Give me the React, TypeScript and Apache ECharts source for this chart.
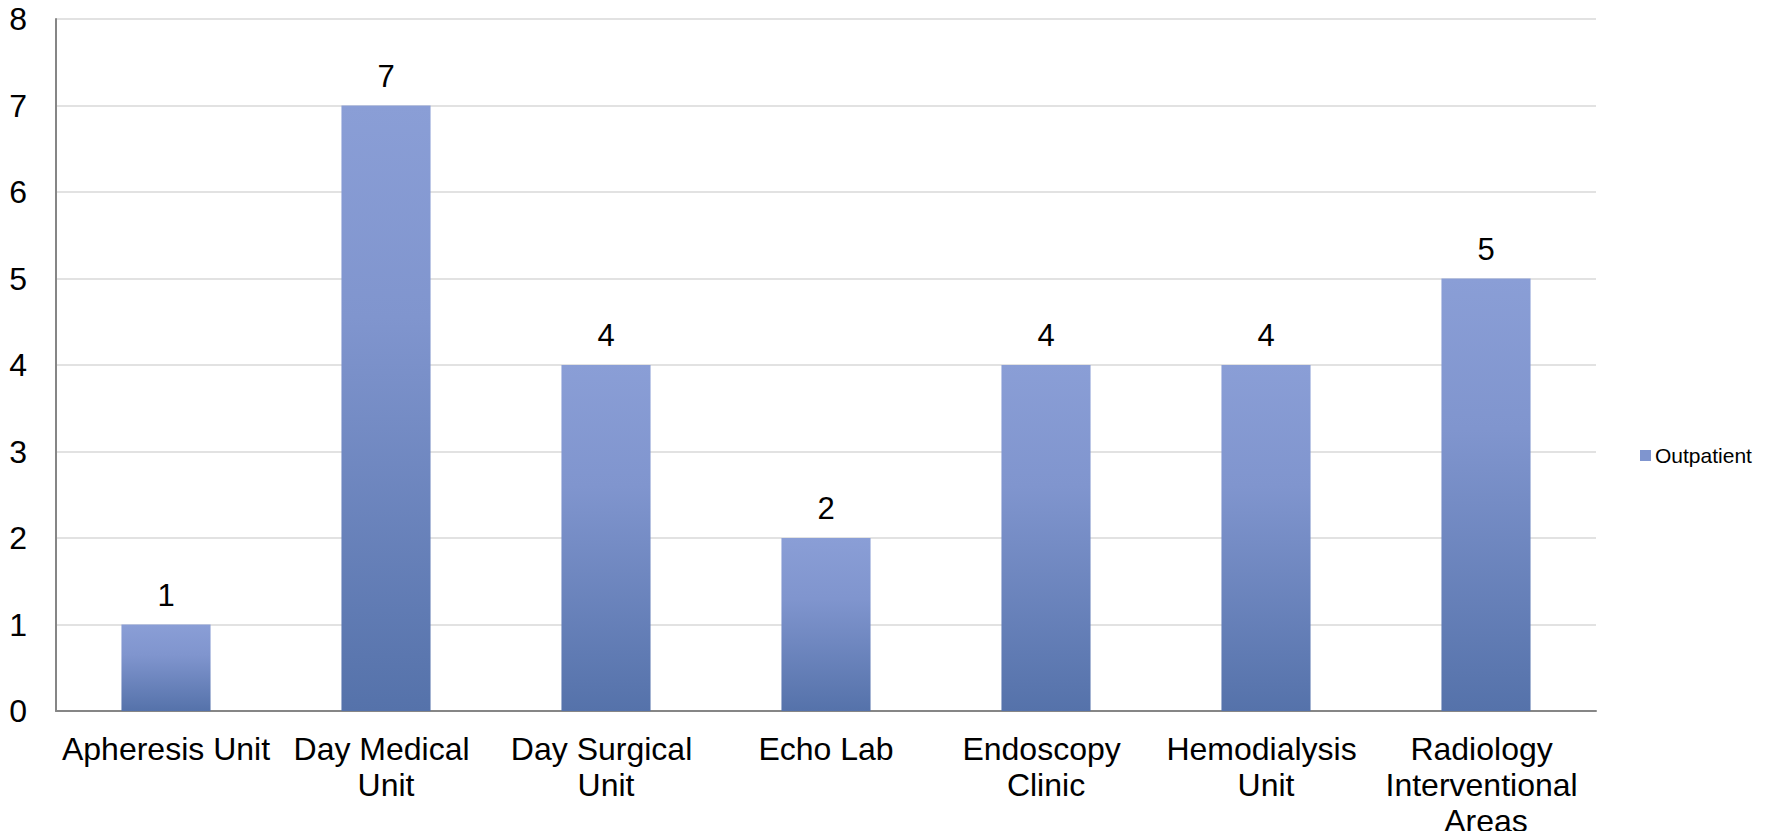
import React, { useEffect, useRef } from "react";
import * as echarts from "echarts";

const categories = [
  "Apheresis Unit",
  "Day Medical Unit",
  "Day Surgical Unit",
  "Echo Lab",
  "Endoscopy Clinic",
  "Hemodialysis Unit",
  "Radiology Interventional Areas",
];
const outpatient = [1, 7, 4, 2, 4, 4, 5];
const seriesName = "Outpatient";

const FONT = "'Liberation Sans', Arial, sans-serif";

export default function App() {
  const ref = useRef<HTMLDivElement>(null);
  useEffect(() => {
    if (!ref.current) return;
    const chart = echarts.init(ref.current, null, { renderer: "svg" });
    const grad = new echarts.graphic.LinearGradient(0, 0, 0, 1, [
      { offset: 0, color: "#8A9ED6" },
      { offset: 0.35, color: "#8095CE" },
      { offset: 1, color: "#5572AA" },
    ]);
    chart.setOption({
      animation: false,
      textStyle: { fontFamily: FONT },
      grid: { left: 56, right: 175, top: 19, bottom: 126, containLabel: false },
      legend: {
        show: true,
        data: [{ name: seriesName, icon: "rect", itemStyle: { color: "#7F95CF" } }],
        orient: "vertical",
        left: 1635,
        top: 440,
        itemWidth: 11,
        itemHeight: 11,
        textStyle: { fontSize: 21, color: "#000", fontFamily: FONT, padding: [0, 0, 0, -1] },
      },
      xAxis: {
        type: "category",
        data: categories,
        axisLine: { lineStyle: { color: "#868686", width: 2 } },
        axisTick: { show: false },
        axisLabel: {
          color: "#000",
          fontSize: 32,
          fontFamily: FONT,
          interval: 0,
          width: 215,
          overflow: "break",
          lineHeight: 36,
          margin: 20,
        },
      },
      yAxis: {
        type: "value",
        min: 0,
        max: 8,
        interval: 1,
        axisLine: { show: true, lineStyle: { color: "#868686", width: 2 } },
        axisTick: { show: false },
        splitLine: { lineStyle: { color: "#D9D9D9", width: 1.5 } },
        axisLabel: { color: "#000", fontSize: 32, fontFamily: FONT, margin: 29 },
      },
      series: [
        {
          name: seriesName,
          type: "bar",
          data: outpatient,
          barWidth: "40.5%",
          itemStyle: { color: grad },
          label: {
            show: true,
            position: "top",
            distance: 14,
            color: "#000",
            fontSize: 31,
            fontFamily: FONT,
          },
        },
      ],
    });
    return () => chart.dispose();
  }, []);
  return <div ref={ref} style={{ width: 1771, height: 839, margin: -8 }} />;
}
